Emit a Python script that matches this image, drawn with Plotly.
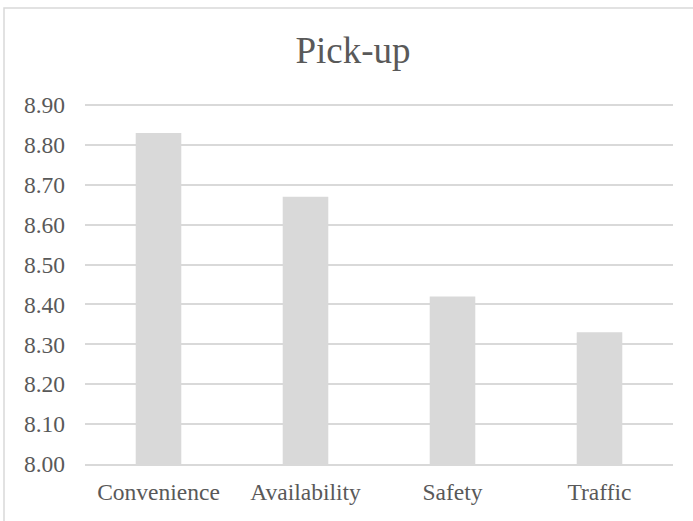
import plotly.graph_objects as go

categories = ["Convenience", "Availability", "Safety", "Traffic"]
values = [8.83, 8.67, 8.42, 8.33]
tick_vals = [8.0, 8.1, 8.2, 8.3, 8.4, 8.5, 8.6, 8.7, 8.8, 8.9]
tick_text = ["8.00", "8.10", "8.20", "8.30", "8.40", "8.50", "8.60", "8.70", "8.80", "8.90"]

W, H = 693, 521
y_top = 8.91
px_per_unit = (464 - 105) / 0.9
L, R, B = 85, 20, 57
T = round(105 - (y_top - 8.9) * px_per_unit)
pw, ph = W - L - R, H - T - B

fig = go.Figure(go.Bar(x=categories, y=values, marker=dict(color="#d9d9d9", line=dict(width=0))))

font = "Liberation Serif"

fig.update_layout(
    width=W, height=H,
    margin=dict(l=L, r=R, t=T, b=B),
    paper_bgcolor="white", plot_bgcolor="white",
    bargap=0.69,
    showlegend=False,
    title=dict(text="Pick-up", x=353 / W, xanchor="center", y=1 - 37 / H, yanchor="top",
               yref="container", font=dict(family=font, size=37, color="#595959")),
    font=dict(family=font, color="#595959"),
)
fig.update_yaxes(range=[8.0, y_top], tickvals=tick_vals, ticktext=tick_text,
                 showgrid=True, gridcolor="#d9d9d9", gridwidth=1.5, zeroline=False,
                 showline=False, ticks="", ticklabelstandoff=19,
                 tickfont=dict(family=font, size=23.5, color="#595959"))
fig.update_xaxes(showgrid=False, showline=True, linecolor="#d9d9d9", linewidth=1.5, ticks="",
                 ticklabelstandoff=6,
                 tickfont=dict(family=font, size=23.5, color="#595959"))

# chart-area border (cropped at right and bottom in reference)
x0 = (4 - L) / pw
x1 = (W + 10 - L) / pw
y1 = (H - B - 8) / ph
y0 = (H - B - (H + 10)) / ph
fig.add_shape(type="rect", xref="paper", yref="paper", x0=x0, x1=x1, y0=y0, y1=y1,
              line=dict(color="#d9d9d9", width=1.5), layer="below")

fig.write_html("out.html")
